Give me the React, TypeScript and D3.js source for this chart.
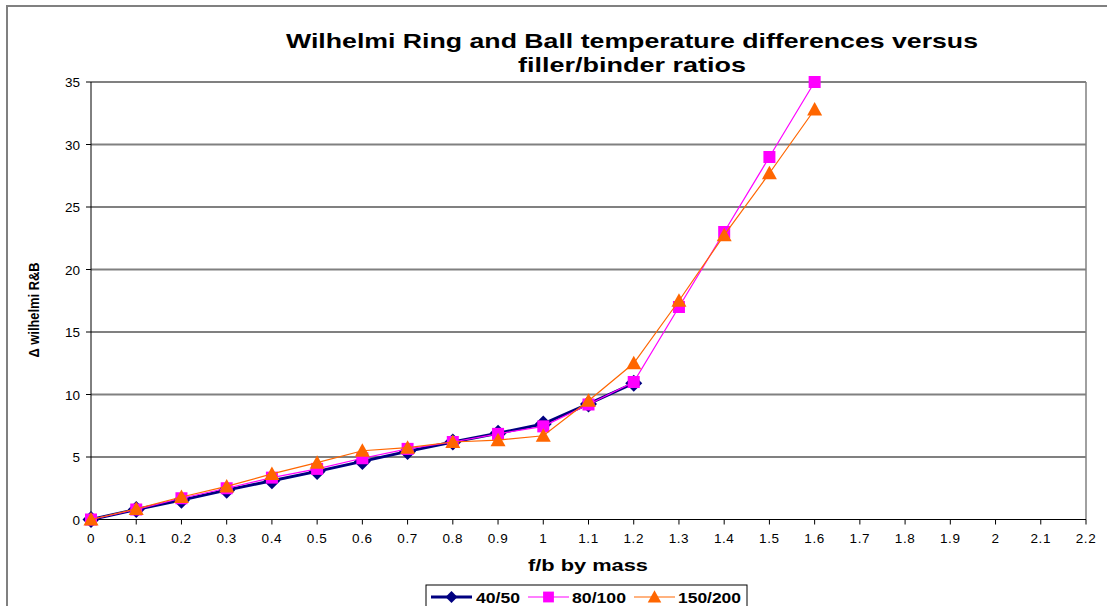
import React from "react";
import * as d3 from "d3";

// f/b ratio steps and measured R&B temperature differences per bitumen grade
const ratiosShort = [0, 0.1, 0.2, 0.3, 0.4, 0.5, 0.6, 0.7, 0.8, 0.9, 1.0, 1.1, 1.2];
const ratiosLong = [0, 0.1, 0.2, 0.3, 0.4, 0.5, 0.6, 0.7, 0.8, 0.9, 1.0, 1.1, 1.2, 1.3, 1.4, 1.5, 1.6];
const grade4050 = [0, 0.8, 1.55, 2.35, 3.1, 3.85, 4.65, 5.45, 6.2, 6.9, 7.65, 9.25, 10.9];
const grade80100 = [0, 0.8, 1.7, 2.5, 3.35, 4.05, 4.9, 5.65, 6.2, 6.85, 7.45, 9.2, 11.0, 17.0, 23.0, 29.0, 35.0];
const grade150200 = [0, 0.85, 1.8, 2.65, 3.65, 4.55, 5.5, 5.75, 6.2, 6.35, 6.7, 9.5, 12.5, 17.5, 22.75, 27.7, 32.8];
const xTicks = d3.range(0, 23).map((i) => +(i / 10).toFixed(1));
const yTicks = [0, 5, 10, 15, 20, 25, 30, 35];
const titleLines = ["Wilhelmi Ring and Ball temperature differences versus", "filler/binder ratios"];

type Series = {
  name: string;
  xs: number[];
  ys: number[];
  color: string;
  width: number;
  marker: "diamond" | "square" | "triangle";
};

const series: Series[] = [
  { name: "40/50", xs: ratiosShort, ys: grade4050, color: "#000080", width: 3, marker: "diamond" },
  { name: "80/100", xs: ratiosLong, ys: grade80100, color: "#FF00FF", width: 1.2, marker: "square" },
  { name: "150/200", xs: ratiosLong, ys: grade150200, color: "#FF6600", width: 1.2, marker: "triangle" },
];

const W = 1107;
const H = 606;
const M = { left: 91, right: 1086, top: 82, bottom: 519.5 };
const FONT = "Liberation Sans, Arial, sans-serif";

const x = d3.scaleLinear().domain([0, 2.2]).range([M.left, M.right]);
const y = d3.scaleLinear().domain([0, 35]).range([M.bottom, M.top]);

function Marker({ kind, cx, cy, color, size = 1 }: { kind: Series["marker"]; cx: number; cy: number; color: string; size?: number }) {
  if (kind === "diamond") {
    const r = 8.5 * size;
    return <path d={`M${cx},${cy - r}L${cx + r},${cy}L${cx},${cy + r}L${cx - r},${cy}Z`} fill={color} />;
  }
  if (kind === "square") {
    const s = 6 * size;
    return <rect x={cx - s} y={cy - s} width={2 * s} height={2 * s} fill={color} />;
  }
  const h = 7.5 * size;
  return <path d={`M${cx},${cy - h}L${cx + h},${cy + h * 0.8}L${cx - h},${cy + h * 0.8}Z`} fill={color} />;
}

export default function App() {
  const line = d3
    .line<[number, number]>()
    .x((d) => x(d[0]))
    .y((d) => y(d[1]));

  const legendItems = [
    { s: series[0], lx: 431, tx: 476, tl: 44 },
    { s: series[1], lx: 528, tx: 572, tl: 54 },
    { s: series[2], lx: 634, tx: 678, tl: 63 },
  ];
  const titleLengths = [692, 228];

  return (
    <svg
      width={W}
      height={H}
      style={{ position: "absolute", left: 0, top: 0, background: "#fff" }}
      fontFamily={FONT}
    >
      {/* chart frame */}
      <rect x={7} y={6} width={W + 10} height={H + 10} fill="none" stroke="#808080" strokeWidth={2} />

      {/* title */}
      {titleLines.map((t, i) => (
        <text
          key={t}
          x={632}
          y={48 + i * 24}
          textAnchor="middle"
          fontSize={21}
          fontWeight="bold"
          fill="#000"
          textLength={titleLengths[i]}
          lengthAdjust="spacingAndGlyphs"
        >
          {t}
        </text>
      ))}

      {/* gridlines */}
      {yTicks
        .filter((v) => v > 0)
        .map((v) => (
          <line key={v} x1={M.left} x2={M.right} y1={y(v)} y2={y(v)} stroke="#808080" strokeWidth={2} />
        ))}
      <line x1={M.right} x2={M.right} y1={M.top} y2={M.bottom} stroke="#808080" strokeWidth={1.5} />

      {/* y axis */}
      <line x1={M.left} x2={M.left} y1={M.top} y2={M.bottom} stroke="#000" strokeWidth={1} />
      {yTicks.map((v) => (
        <g key={v}>
          <line x1={M.left - 5} x2={M.left} y1={y(v)} y2={y(v)} stroke="#000" />
          <text x={M.left - 11} y={y(v) + 5} textAnchor="end" fontSize={13.5} fill="#000">
            {v}
          </text>
        </g>
      ))}

      {/* x axis */}
      <line x1={M.left} x2={M.right} y1={M.bottom} y2={M.bottom} stroke="#000" strokeWidth={1} />
      {xTicks.map((v) => (
        <g key={v}>
          <line x1={x(v)} x2={x(v)} y1={M.bottom} y2={M.bottom + 5} stroke="#000" />
          <text x={x(v)} y={M.bottom + 23} textAnchor="middle" fontSize={13.5} fill="#000" letterSpacing={0.6}>
            {String(v)}
          </text>
        </g>
      ))}

      {/* axis titles */}
      <text
        x={588}
        y={571}
        textAnchor="middle"
        fontSize={16.5}
        fontWeight="bold"
        fill="#000"
        textLength={120}
        lengthAdjust="spacingAndGlyphs"
      >
        f/b by mass
      </text>
      <text
        transform={`translate(39,310) rotate(-90)`}
        textAnchor="middle"
        fontSize={14.5}
        fontWeight="bold"
        fill="#000"
        textLength={95}
        lengthAdjust="spacingAndGlyphs"
      >
        Δ wilhelmi R&amp;B
      </text>

      {/* series */}
      {series.map((s) => {
        const pts = s.xs.map((xv, i) => [xv, s.ys[i]] as [number, number]);
        return (
          <g key={s.name}>
            <path d={line(pts) ?? ""} fill="none" stroke={s.color} strokeWidth={s.width} />
            {pts.map((p, i) => (
              <Marker key={i} kind={s.marker} cx={x(p[0])} cy={y(p[1])} color={s.color} />
            ))}
          </g>
        );
      })}

      {/* legend */}
      <rect x={426} y={585} width={321} height={30} fill="#fff" stroke="#000" strokeWidth={1} />
      {legendItems.map(({ s, lx, tx, tl }) => (
        <g key={s.name}>
          <line x1={lx} x2={lx + 41} y1={597} y2={597} stroke={s.color} strokeWidth={s.width} />
          <Marker kind={s.marker} cx={lx + 20.5} cy={597} color={s.color} size={s.marker === "diamond" ? 0.7 : 0.9} />
          <text
            x={tx}
            y={602.5}
            fontSize={15}
            fontWeight="bold"
            fill="#000"
            textLength={tl}
            lengthAdjust="spacingAndGlyphs"
          >
            {s.name}
          </text>
        </g>
      ))}
    </svg>
  );
}
